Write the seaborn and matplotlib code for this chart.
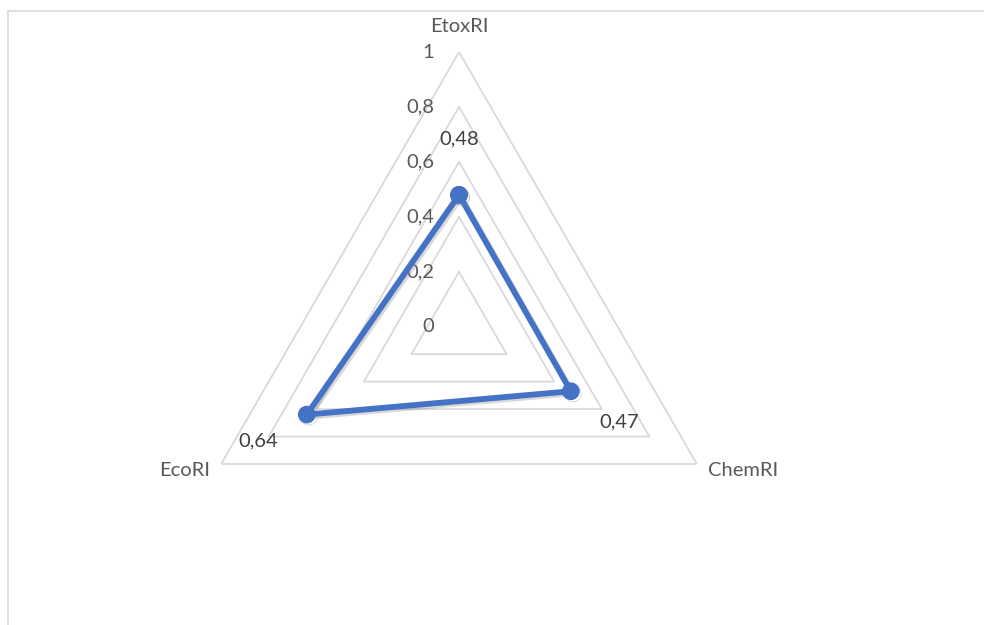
import numpy as np
import pandas as pd
import seaborn as sns
import matplotlib.pyplot as plt
import matplotlib.patheffects as pe
from matplotlib.patches import Rectangle

categories = ["EtoxRI", "ChemRI", "EcoRI"]
values = [0.48, 0.47, 0.64]
value_labels = ["0,48", "0,47", "0,64"]
levels = [0, 0.2, 0.4, 0.6, 0.8, 1.0]
level_labels = ["0", "0,2", "0,4", "0,6", "0,8", "1"]

sns.set_theme(style="white")
plt.rcParams["font.family"] = ["Lato", "DejaVu Sans"]

fig = plt.figure(figsize=(9.84, 6.25), dpi=100)
fig.patch.set_facecolor("white")

# chart area border (cut by the image edges)
fig.add_artist(Rectangle((8 / 984, -0.1), 1.2, 1.1 - 11 / 625,
                         transform=fig.transFigure, fill=False,
                         edgecolor="#D9D9D9", linewidth=1.2))

ax = fig.add_axes([0.1873, 0.0378, 0.5584, 0.879], projection="polar")
ax.set_theta_offset(np.pi / 2)
ax.set_theta_direction(-1)
ax.set_ylim(0, 1)
ax.grid(False)
ax.spines["polar"].set_visible(False)
ax.set_xticks([])
ax.set_yticks([])
ax.patch.set_alpha(0)

theta = np.linspace(0, 2 * np.pi, len(categories), endpoint=False)
theta_closed = np.append(theta, theta[0])

# triangular grid
for lv in levels[1:]:
    ax.plot(theta_closed, [lv] * len(theta_closed), color="#D9D9D9", lw=1.3, zorder=1)

fs = 14.5

# radial tick labels along the top axis
for lv, lab in zip(levels, level_labels):
    ax.annotate(lab, xy=(0, lv), xytext=(-18, 0), textcoords="offset points",
                ha="right", va="center", fontsize=fs, color="#595959")

# category labels
ax.annotate(categories[0], xy=(theta[0], 1), xytext=(0, 18.5), textcoords="offset points",
            ha="center", va="center", fontsize=fs, color="#595959")
ax.annotate(categories[1], xy=(theta[1], 1), xytext=(8, -5), textcoords="offset points",
            ha="left", va="center", fontsize=fs, color="#595959")
ax.annotate(categories[2], xy=(theta[2], 1), xytext=(-8, -5), textcoords="offset points",
            ha="right", va="center", fontsize=fs, color="#595959")

df = pd.DataFrame({
    "theta": theta_closed,
    "value": values + [values[0]],
})
sns.lineplot(data=df, x="theta", y="value", ax=ax, sort=False, estimator=None,
             color="#4472C4", lw=4.2, marker="o", markersize=12,
             markeredgecolor="#4472C4", zorder=3,
             path_effects=[pe.SimpleLineShadow(offset=(1.5, -1.5), shadow_color="gray", alpha=0.3),
                           pe.Normal()])
ax.set_xlabel("")
ax.set_ylabel("")
ax.set_xticks([])
ax.set_yticks([])
ax.set_ylim(0, 1)

# data labels
offsets = [(0, 40), (35, -22), (-35, -19)]
for t, v, lab, off in zip(theta, values, value_labels, offsets):
    ax.annotate(lab, xy=(t, v), xytext=off, textcoords="offset points",
                ha="center", va="center", fontsize=fs, color="#404040")

fig.savefig("out.png", dpi=100)
